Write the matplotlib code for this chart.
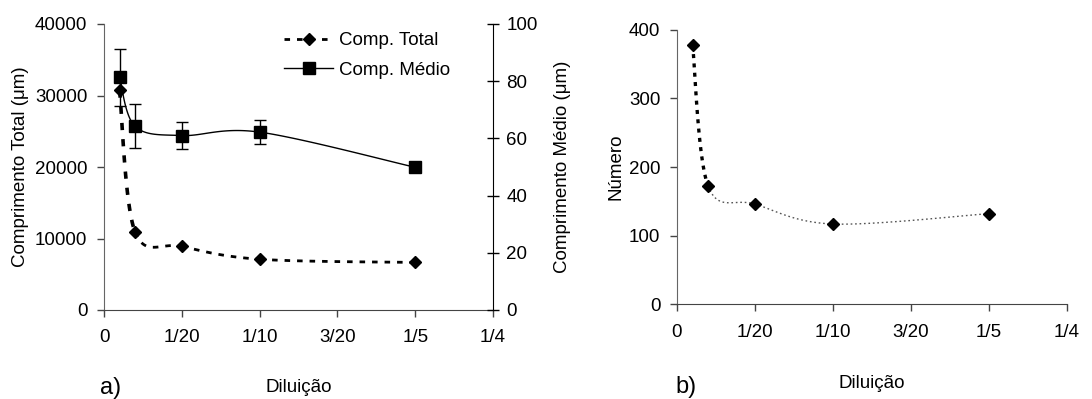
import numpy as np
import matplotlib.pyplot as plt
from matplotlib.ticker import FixedLocator

plt.rcParams['font.family'] = ['Liberation Sans', 'DejaVu Sans']

# data
diluicao = [1/100, 1/50, 1/20, 1/10, 1/5]
comp_total = [30700, 10900, 8900, 7100, 6650]
comp_medio = [81.4, 64.2, 61.0, 62.2, 49.9]
comp_medio_err = [10.0, 7.7, 4.7, 4.2, 1.0]
numero = [378, 172, 146, 117, 132]

xticks = [0, 0.05, 0.1, 0.15, 0.2, 0.25]
xticklabels = ['0', '1/20', '1/10', '3/20', '1/5', '1/4']

W, H = 1092, 399
FS = 13.5


def smooth(x, y, sx, sy, n=40):
    # excel-like smoothed line (catmull-rom bezier in screen scale)
    p = np.column_stack([np.asarray(x) * sx, np.asarray(y) * sy])
    pts = np.vstack([p[0], p, p[-1]])
    segs = []
    t = np.linspace(0, 1, n)[:, None]
    for i in range(1, len(pts) - 2):
        p0, p1, p2, p3 = pts[i - 1], pts[i], pts[i + 1], pts[i + 2]
        c1 = p1 + (p2 - p0) / 6
        c2 = p2 - (p3 - p1) / 6
        b = (1 - t) ** 3 * p1 + 3 * (1 - t) ** 2 * t * c1 + 3 * (1 - t) * t ** 2 * c2 + t ** 3 * p2
        segs.append((b[:, 0] / sx, b[:, 1] / sy))
    return segs


def style_axes(ax):
    for s in ['top', 'right']:
        ax.spines[s].set_visible(False)
    ax.spines['left'].set_color('#666666')
    ax.spines['bottom'].set_color('#444444')
    ax.tick_params(axis='both', labelsize=FS, direction='out', length=5, width=1, colors='#444444',
                   labelcolor='black')
    ax.tick_params(axis='x', pad=9)
    ax.tick_params(axis='y', pad=7)
    ax.set_xlim(0, 0.25)
    ax.xaxis.set_major_locator(FixedLocator(xticks))
    ax.set_xticklabels(xticklabels)


fig = plt.figure(figsize=(W / 100, H / 100), dpi=100)

# panel a
ax = fig.add_axes([104 / W, 1 - 310 / H, 389 / W, 286 / H])
style_axes(ax)
ax.set_ylim(0, 40000)
ax.set_yticks([0, 10000, 20000, 30000, 40000])
ax.set_ylabel('Comprimento Total (μm)', fontsize=FS, labelpad=4)

sx, sy = 389 / 0.25, 286 / 40000
for i, (xs, ys) in enumerate(smooth(diluicao, comp_total, sx, sy)):
    ax.plot(xs, ys, color='black', lw=2.6 if i == 0 else 2.0, dashes=(2, 2.5), solid_capstyle='butt')
ax.plot(diluicao, comp_total, ls='none', marker='D', ms=6.5, color='black')

ax2 = ax.twinx()
ax2.set_ylim(0, 100)
ax2.set_yticks([0, 20, 40, 60, 80, 100])
for s in ['top', 'left', 'bottom']:
    ax2.spines[s].set_visible(False)
ax2.spines['right'].set_color('black')
ax2.tick_params(axis='y', labelsize=FS, direction='inout', length=9, width=1, pad=5)
ax2.set_ylabel('Comprimento Médio (μm)', fontsize=FS, labelpad=12)

sy2 = 286 / 100
for xs, ys in smooth(diluicao, comp_medio, sx, sy2):
    ax2.plot(xs, ys, color='black', lw=1)
ax2.errorbar(diluicao, comp_medio, yerr=comp_medio_err, ls='none', marker='s', ms=8,
             color='black', ecolor='black', elinewidth=1, capsize=4, capthick=1)

# legend handles
h1, = ax.plot([], [], color='black', lw=2, dashes=(2, 2.5), marker='D', ms=6.5)
h2, = ax.plot([], [], color='black', lw=1, marker='s', ms=8)
ax.legend([h1, h2], ['Comp. Total', 'Comp. Médio'], loc='upper left', bbox_to_anchor=(0.42, 1.03),
          frameon=False, fontsize=FS, handlelength=2.6, handletextpad=0.3, labelspacing=0.65)

# panel b
bx = fig.add_axes([677 / W, 1 - 304.3 / H, 389.7 / W, 274.6 / H])
style_axes(bx)
bx.set_ylim(0, 400)
bx.set_yticks([0, 100, 200, 300, 400])
bx.set_ylabel('Número', fontsize=FS, labelpad=3)

sx_b, sy_b = 389.7 / 0.25, 274.6 / 400
for i, (xs, ys) in enumerate(smooth(diluicao, numero, sx_b, sy_b)):
    if i == 0:
        bx.plot(xs, ys, color='black', lw=2.4, dashes=(1.2, 1.6))
    else:
        bx.plot(xs, ys, color='#555555', lw=1.0, dashes=(1.2, 2.0))
bx.plot(diluicao, numero, ls='none', marker='D', ms=6.5, color='black')

# labels under the panels
fig.text(299 / W, 1 - 388 / H, 'Diluição', fontsize=FS, ha='center', va='center')
fig.text(100 / W, 1 - 388 / H, 'a)', fontsize=17, ha='left', va='center')
fig.text(872 / W, 1 - 384 / H, 'Diluição', fontsize=FS, ha='center', va='center')
fig.text(675 / W, 1 - 387 / H, 'b)', fontsize=17, ha='left', va='center')

fig.savefig('out.png', dpi=100)
